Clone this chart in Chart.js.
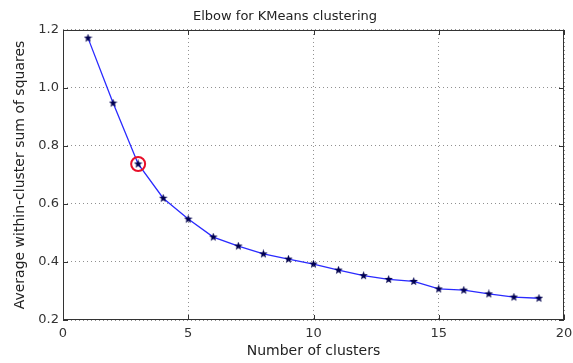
<!DOCTYPE html>
<html><head><meta charset="utf-8">
<script src="https://cdn.jsdelivr.net/npm/chart.js@4/dist/chart.umd.min.js"></script>
<style>html,body{margin:0;padding:0;background:#fff}#wrap{width:573px;height:363px}</style>
</head><body><div id="wrap"><canvas id="c" width="573" height="363"></canvas></div>
<script>
const clusters = [1,2,3,4,5,6,7,8,9,10,11,12,13,14,15,16,17,18,19];
const avgWithinSS = [1.172,0.948,0.738,0.620,0.548,0.486,0.455,0.428,0.410,0.393,0.372,0.353,0.340,0.333,0.307,0.303,0.290,0.279,0.275];
const elbowK = [3];
const elbowValue = [0.738];
const xTicks = [0,5,10,15,20];
const yTicks = [0.2,0.4,0.6,0.8,1.0,1.2];

function starImg(size, color){
  const c = document.createElement('canvas');
  c.width = size; c.height = size;
  const g = c.getContext('2d');
  const cx = size/2, cy = size/2, R = size/2, r = R*0.42;
  g.beginPath();
  for (let i=0;i<10;i++){
    const rad = i%2===0 ? R : r;
    const a = -Math.PI/2 + i*Math.PI/5;
    const px = cx + rad*Math.cos(a), py = cy + rad*Math.sin(a);
    if(i===0) g.moveTo(px,py); else g.lineTo(px,py);
  }
  g.closePath(); g.fillStyle = color; g.fill();
  return c;
}
const star = starImg(9, '#000050');

const frame = {
  id:'frame',
  afterDraw(chart){
    const {ctx, chartArea:a, scales} = chart;
    ctx.save();
    ctx.strokeStyle = '#333'; ctx.lineWidth = 1;
    ctx.strokeRect(a.left+0.5, a.top+0.5, a.right-a.left-1, a.bottom-a.top-1);
    ctx.beginPath();
    xTicks.forEach(v=>{ const x = Math.round(scales.x.getPixelForValue(v))+0.5;
      ctx.moveTo(x,a.bottom); ctx.lineTo(x,a.bottom-5); ctx.moveTo(x,a.top); ctx.lineTo(x,a.top+5); });
    yTicks.forEach(v=>{ const y = Math.round(scales.y.getPixelForValue(v))+0.5;
      ctx.moveTo(a.left,y); ctx.lineTo(a.left+5,y); ctx.moveTo(a.right,y); ctx.lineTo(a.right-5,y); });
    ctx.stroke();
    ctx.restore();
  }
};

new Chart(document.getElementById('c'), {
  type:'line',
  data:{
    datasets:[
      { data: clusters.map((k,i)=>({x:k,y:avgWithinSS[i]})),
        borderColor:'#2a2aff', borderWidth:1.3, pointStyle:star, pointRadius:4, tension:0, fill:false, order:2 },
      { data: elbowK.map((k,i)=>({x:k,y:elbowValue[i]})),
        showLine:false, pointStyle:'circle', pointRadius:7, pointBorderWidth:2,
        pointBorderColor:'#e8102a', pointBackgroundColor:'rgba(0,0,0,0)', order:1 }
    ]
  },
  options:{
    responsive:false, animation:false,
    layout:{padding:{left:0,right:3,top:0,bottom:0}},
    plugins:{
      legend:{display:false}, tooltip:{enabled:false},
      title:{display:true, text:'Elbow for KMeans clustering', color:'#222',
        font:{family:'DejaVu Sans', size:13, weight:'normal', lineHeight:1.23}, padding:{top:9,bottom:5}}
    },
    scales:{
      x:{ type:'linear', min:0, max:20,
        afterBuildTicks(s){ s.ticks = xTicks.map(v=>({value:v})); },
        ticks:{ color:'#333', font:{family:'DejaVu Sans', size:13}, padding:6, maxRotation:0, autoSkip:false },
        grid:{ color:'#444', lineWidth:0.6, drawTicks:false },
        border:{ display:false, dash:[1,3] },
        title:{ display:true, text:'Number of clusters', color:'#222', font:{family:'DejaVu Sans', size:14}, padding:{top:2,bottom:3} },
        afterFit(s){ s.height = 43; s.paddingLeft = 0; s.paddingRight = 0; }
      },
      y:{ type:'linear', min:0.2, max:1.2,
        afterBuildTicks(s){ s.ticks = yTicks.map(v=>({value:v})); },
        ticks:{ color:'#333', font:{family:'DejaVu Sans', size:13}, padding:4, callback:v=>Number(v).toFixed(1) },
        grid:{ color:'#444', lineWidth:0.6, drawTicks:false },
        border:{ display:false, dash:[1,3] },
        title:{ display:true, text:'Average within-cluster sum of squares', color:'#222', font:{family:'DejaVu Sans', size:14}, padding:{top:12,bottom:0} },
        afterFit(s){ s.width = 63; s.paddingTop = 0; s.paddingBottom = 0; }
      }
    }
  },
  plugins:[frame]
});
</script></body></html>
